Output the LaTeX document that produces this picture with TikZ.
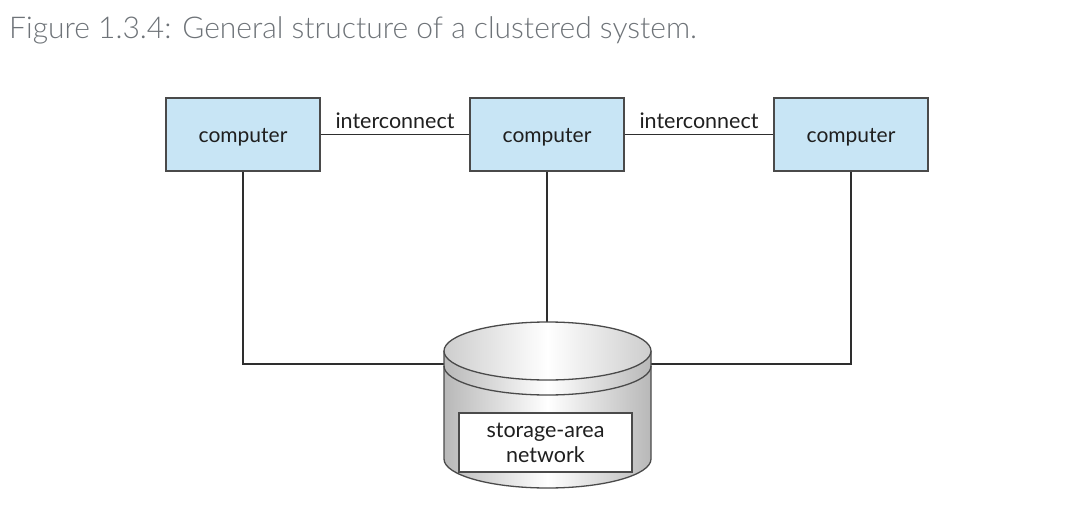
\documentclass[tikz,border=0pt]{standalone}
\usepackage{fontspec}
\setmainfont{Lato}
\newfontfamily\titlefont{Lato Light}
\usetikzlibrary{positioning}
\definecolor{boxblue}{HTML}{C8E5F5}
\definecolor{boxline}{HTML}{4A4A4A}
\definecolor{wire}{HTML}{2E2E2E}
\definecolor{titlegray}{HTML}{6E7378}
\definecolor{cylgray}{HTML}{B8B8B8}
\newcommand{\comptext}{\raisebox{-7.5pt}[0pt][0pt]{computer}}
\begin{document}
\begin{tikzpicture}[x=1pt,y=-1pt,
  compbox/.style={draw=boxline,line width=1.3pt,fill=boxblue,minimum width=154pt,minimum height=73pt,inner sep=0pt,
    font=\fontsize{21}{24}\selectfont,text=black!88},
  wirestyle/.style={draw=wire,line width=1.8pt},
  lbl/.style={font=\fontsize{21.5}{24}\selectfont,text=black!88,inner sep=2pt}]
\useasboundingbox (0,0) rectangle (1077,514);
\node[anchor=base west,inner sep=0pt,text=titlegray,font=\titlefont\fontsize{30}{34}\selectfont] (title) at (9,38) {Figure 1.3.4: General structure of a clustered system.};
\node[compbox] (c1) at (243,134.5) {\comptext};
\node[compbox] (c2) at (547,134.5) {\comptext};
\node[compbox] (c3) at (851,134.5) {\comptext};
\draw[wirestyle] (c1.east) -- node[lbl,anchor=south,yshift=2.5pt] (i1) {interconnect} (c2.west);
\draw[wirestyle] (c2.east) -- node[lbl,anchor=south,yshift=2.5pt] (i2) {interconnect} (c3.west);
\coordinate (cylL) at (444,364);
\coordinate (cylR) at (651,364);
\coordinate (cylT) at (547,322);
\draw[wirestyle] (c1.south) |- (cylL);
\draw[wirestyle] (c3.south) |- (cylR);
\draw[wirestyle] (c2.south) -- (cylT);
% cylinder
\path[shading=axis,left color=cylgray,right color=cylgray,middle color=white,shading angle=90]
  (444,351) -- (444,459) arc(180:0:103.5 and 29) -- (651,351) arc(0:-180:103.5 and 29) -- cycle;
\draw[boxline,line width=1.3pt] (444,351) -- (444,459) arc(180:0:103.5 and 29) -- (651,351);
\shade[left color=cylgray!70,right color=cylgray!70,middle color=white,shading angle=90] (547.5,351) ellipse (103.5 and 29);
\draw[boxline,line width=1.3pt] (547.5,351) ellipse (103.5 and 29);
\draw[boxline,line width=1.3pt] (444,366) arc(180:0:103.5 and 29);
\node[draw=boxline,line width=1.3pt,fill=white,minimum width=173pt,minimum height=59pt,inner sep=0pt,align=center,
  font=\fontsize{21.5}{25}\selectfont,text=black!88] (san) at (545.5,442.5) {storage-area\\network};
\end{tikzpicture}
\end{document}
